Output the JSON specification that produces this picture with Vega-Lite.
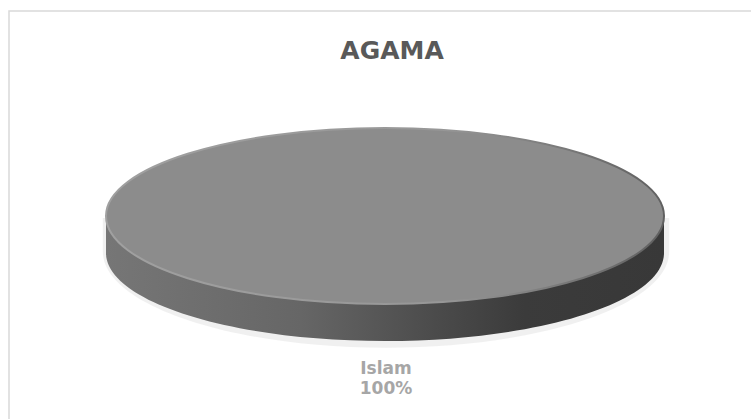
{
  "$schema": "https://vega.github.io/schema/vega-lite/v6.json",
  "width": 742,
  "height": 408,
  "autosize": "none",
  "padding": {"left": 9, "top": 11, "right": 0, "bottom": 0},
  "background": "white",
  "view": {"stroke": null},
  "title": {
    "text": "AGAMA",
    "font": "DejaVu Sans",
    "fontSize": 25,
    "fontWeight": "bold",
    "color": "#595959",
    "anchor": "middle",
    "baseline": "alphabetic",
    "offset": -47,
    "dx": 12,
    "dy": 27
  },
  "data": {"values": [{"agama": "Islam", "persen": 100}]},
  "transform": [{"calculate": "datum.persen + '%'", "as": "label"}],
  "layer": [
    {
      "mark": {
        "type": "rect",
        "fill": "white",
        "fillOpacity": 0,
        "stroke": "#d9d9d9",
        "strokeWidth": 1.5,
        "strokeDash": [742, 1150, 410, 10]
      },
      "encoding": {"detail": {"field": "agama", "type": "nominal"}}
    },
    {
      "mark": {
        "type": "point",
        "filled": true,
        "opacity": 0.8,
        "size": 311364,
        "xOffset": 6,
        "yOffset": 3,
        "color": "#ececec",
        "strokeWidth": 0,
        "shape": "M -1.015 0.12 C -1.015 0.31 -0.56 0.465 0 0.465 C 0.56 0.465 1.015 0.31 1.015 0.12 L 1.015 0 L -1.015 0 Z"
      },
      "encoding": {"detail": {"field": "agama", "type": "nominal"}}
    },
    {
      "mark": {
        "type": "point",
        "filled": true,
        "opacity": 1,
        "size": 311364,
        "xOffset": 5,
        "yOffset": 1,
        "strokeWidth": 0,
        "color": {
          "gradient": "linear",
          "x1": 0, "y1": 0, "x2": 1, "y2": 0,
          "stops": [
            {"offset": 0, "color": "#767676"},
            {"offset": 0.35, "color": "#666666"},
            {"offset": 0.6, "color": "#4a4a4a"},
            {"offset": 0.75, "color": "#3b3b3b"},
            {"offset": 1, "color": "#383838"}
          ]
        },
        "shape": "M -1 0 L -1 0.1326 C -1 0.3068 -0.5523 0.448 0 0.448 C 0.5523 0.448 1 0.3068 1 0.1326 L 1 0 Z"
      },
      "encoding": {"detail": {"field": "agama", "type": "nominal"}}
    },
    {
      "mark": {
        "type": "point",
        "filled": true,
        "opacity": 1,
        "size": 311364,
        "xOffset": 5,
        "yOffset": 1,
        "color": "#8c8c8c",
        "stroke": {
          "gradient": "linear",
          "x1": 0, "y1": 0, "x2": 1, "y2": 0,
          "stops": [
            {"offset": 0, "color": "#a0a0a0"},
            {"offset": 0.6, "color": "#979797"},
            {"offset": 1, "color": "#606060"}
          ]
        },
        "strokeWidth": 2,
        "shape": "M -1 0 C -1 -0.1742 -0.5523 -0.3154 0 -0.3154 C 0.5523 -0.3154 1 -0.1742 1 0 C 1 0.1742 0.5523 0.3154 0 0.3154 C -0.5523 0.3154 -1 0.1742 -1 0 Z"
      },
      "encoding": {"detail": {"field": "agama", "type": "nominal"}}
    },
    {
      "mark": {
        "type": "text",
        "font": "DejaVu Sans",
        "fontSize": 17,
        "fontWeight": "bold",
        "color": "#a6a6a6",
        "baseline": "middle",
        "align": "center",
        "xOffset": 6,
        "yOffset": 154
      },
      "encoding": {"text": {"field": "agama", "type": "nominal"}}
    },
    {
      "mark": {
        "type": "text",
        "font": "DejaVu Sans",
        "fontSize": 17,
        "fontWeight": "bold",
        "color": "#a6a6a6",
        "baseline": "middle",
        "align": "center",
        "xOffset": 6,
        "yOffset": 174
      },
      "encoding": {"text": {"field": "label", "type": "nominal"}}
    }
  ]
}
